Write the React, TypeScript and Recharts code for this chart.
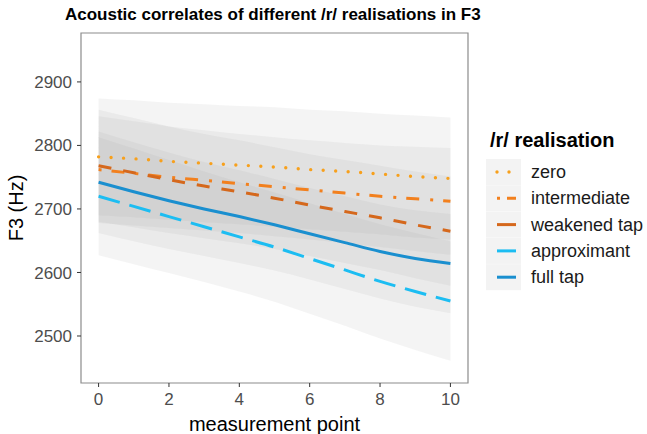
import React from 'react';
import { ComposedChart, Line, Area, XAxis, YAxis, ReferenceArea } from 'recharts';

// measurement points along the /r/ segment
const measurementPoints = [0, 1, 2, 3, 4, 5, 6, 7, 8, 9, 10];

// smoothed F3 means (Hz)
const zero = [2782, 2779, 2775, 2772, 2769, 2766, 2762, 2759, 2755, 2751, 2748];
const intermediate = [2762, 2756, 2750, 2745, 2740, 2735, 2730, 2725, 2720, 2716, 2712];
const weakenedTap = [2768, 2757, 2746, 2736, 2727, 2717, 2706, 2696, 2686, 2675, 2665];
const approximant = [2720, 2704, 2688, 2672, 2656, 2640, 2622, 2604, 2586, 2570, 2555];
const fullTap = [2742, 2727, 2713, 2700, 2688, 2675, 2661, 2647, 2633, 2622, 2614];

// half-widths of the grey confidence ribbons (Hz)
const zeroCi = [92, 92, 92, 93, 93, 94, 94, 95, 95, 96, 96];
const intermediateCi = [84, 82, 80, 79, 78, 78, 78, 79, 80, 82, 84];
const weakenedTapCi = [88, 86, 84, 82, 81, 80, 80, 81, 82, 84, 86];
const approximantCi = [93, 91, 89, 87, 86, 86, 87, 88, 90, 92, 94];
const fullTapCi = [80, 78, 76, 74, 73, 72, 72, 73, 74, 76, 78];

const yTicks = [2500, 2600, 2700, 2800, 2900];
const xTicks = [0, 2, 4, 6, 8, 10];

const series = [
    { key: 'zero', label: 'zero', values: zero, ci: zeroCi, color: '#f7a01c', dash: '0 12.5', keyDash: '0 12', width: 3.4, cap: 'round' },
    { key: 'intermediate', label: 'intermediate', values: intermediate, ci: intermediateCi, color: '#f2801e', dash: '3 10 13 11', keyDash: '3 7 9 0', width: 3, cap: 'butt' },
    { key: 'weakened', label: 'weakened tap', values: weakenedTap, ci: weakenedTapCi, color: '#d5681c', dash: '13 12', keyDash: undefined, width: 3, cap: 'butt' },
    { key: 'approximant', label: 'approximant', values: approximant, ci: approximantCi, color: '#1cbdf2', dash: '22 10', keyDash: undefined, width: 3, cap: 'butt' },
    { key: 'fullTap', label: 'full tap', values: fullTap, ci: fullTapCi, color: '#1a8fcf', dash: undefined, keyDash: undefined, width: 3, cap: 'butt' },
];

const data = measurementPoints.map((x, i) => {
    const row: Record<string, any> = { x };
    series.forEach((s) => {
        row[s.key] = s.values[i];
        row[s.key + 'Band'] = [s.values[i] - s.ci[i], s.values[i] + s.ci[i]];
    });
    return row;
});

const FONT = '"Liberation Sans", Arial, sans-serif';

function LegendBox() {
    return (
        <svg width={164} height={175} style={{ position: 'absolute', left: 483, top: 121, overflow: 'visible' }}>
            <text x={7} y={19} fontSize={20} fontWeight="bold" fill="#000" dominantBaseline="central">
                /r/ realisation
            </text>
            {series.map((s, i) => {
                const cy = 51 + i * 26.3;
                return (
                    <g key={s.key}>
                        <rect x={3} y={cy - 13} width={35} height={26} fill="#f3f3f3" />
                        <line
                            x1={14}
                            x2={33}
                            y1={cy}
                            y2={cy}
                            stroke={s.color}
                            strokeWidth={s.width}
                            strokeDasharray={s.keyDash}
                            strokeLinecap={s.cap as any}
                        />
                        <text x={48} y={cy} fontSize={18} fill="#1a1a1a" dominantBaseline="central">
                            {s.label}
                        </text>
                    </g>
                );
            })}
        </svg>
    );
}

const YLabel = () => (
    <text x={16} y={208} transform="rotate(-90 16 208)" textAnchor="middle" dominantBaseline="central" fontSize={20} fill="#000">
        F3 (Hz)
    </text>
);

export default function App() {
    return (
        <div style={{ position: 'absolute', left: 0, top: 0, width: 647, height: 434, background: '#fff', fontFamily: FONT }}>
            <div
                style={{
                    position: 'absolute',
                    left: 65,
                    top: 4,
                    fontSize: 17,
                    fontWeight: 'bold',
                    color: '#000',
                    whiteSpace: 'nowrap',
                    lineHeight: '22px',
                }}
            >
                Acoustic correlates of different /r/ realisations in F3
            </div>
            <ComposedChart width={647} height={434} data={data} margin={{ top: 33, right: 179, bottom: 0, left: 0 }}>
                <XAxis
                    dataKey="x"
                    type="number"
                    domain={[-0.5, 10.5]}
                    ticks={xTicks}
                    height={51}
                    axisLine={false}
                    tickLine={{ stroke: '#333' }}
                    tickSize={4}
                    tickMargin={6}
                    tick={{ fill: '#4d4d4d', fontSize: 17 }}
                    label={{ value: 'measurement point', position: 'insideBottom', offset: 3, fill: '#000', fontSize: 20 }}
                />
                <YAxis
                    type="number"
                    domain={[2426, 2977]}
                    ticks={yTicks}
                    width={81}
                    axisLine={false}
                    tickLine={{ stroke: '#333' }}
                    tickSize={4}
                    tickMargin={5}
                    tick={{ fill: '#4d4d4d', fontSize: 17 }}
                    label={<YLabel />}
                />
                {series.map((s) => (
                    <Area
                        key={s.key + 'Band'}
                        dataKey={s.key + 'Band'}
                        type="monotone"
                        stroke="none"
                        fill="#9a9a9a"
                        fillOpacity={0.11}
                        isAnimationActive={false}
                        legendType="none"
                    />
                ))}
                {series.map((s) => (
                    <Line
                        key={s.key}
                        dataKey={s.key}
                        type="monotone"
                        stroke={s.color}
                        strokeWidth={s.width}
                        strokeDasharray={s.dash}
                        strokeLinecap={s.cap as any}
                        dot={false}
                        activeDot={false}
                        isAnimationActive={false}
                    />
                ))}
                <ReferenceArea
                    x1={-0.5}
                    x2={10.5}
                    y1={2426}
                    y2={2977}
                    fill="none"
                    stroke="#8c8c8c"
                    strokeWidth={1.2}
                    ifOverflow="visible"
                />
            </ComposedChart>
            <LegendBox />
        </div>
    );
}
